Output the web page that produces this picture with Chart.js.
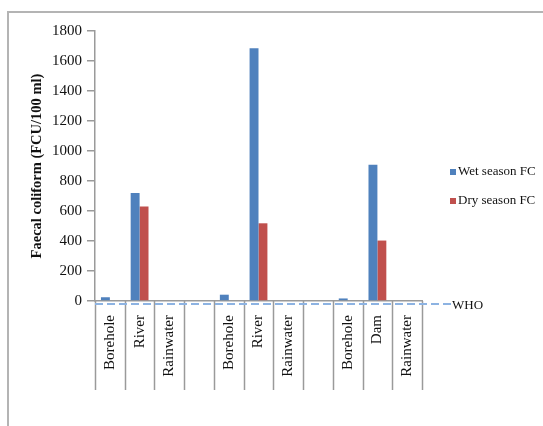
<!DOCTYPE html>
<html>
<head>
<meta charset="utf-8">
<script src="https://cdn.jsdelivr.net/npm/chart.js@4"></script>
<style>
  html, body { margin: 0; padding: 0; background: #fff; }
  #wrap { width: 543px; height: 426px; }
</style>
</head>
<body>
<div id="wrap"><canvas id="fc" width="543" height="426"></canvas></div>
<script>
// Water sources sampled at three sites (blank slots separate the sites)
const categories = ['Borehole', 'River', 'Rainwater', '', 'Borehole', 'River', 'Rainwater', '', 'Borehole', 'Dam', 'Rainwater'];
// Faecal coliform counts (FCU/100 ml)
const wetSeason = [25, 720, 0, null, 42, 1685, 0, null, 17, 908, 0];
const drySeason = [0, 630, 0, null, 0, 518, 0, null, 0, 403, 0];
// WHO guideline value for drinking water
const whoLevel = 0;
const whoLabel = 'WHO';
const yTicks = [0, 200, 400, 600, 800, 1000, 1200, 1400, 1600, 1800];

const SERIF = '"Liberation Serif", "Times New Roman", serif';
const BLUE = '#4F81BD';
const RED = '#C0504D';
const AXIS = '#9a9a9a';

const framePlugin = {
  id: 'frame',
  beforeDraw(chart) {
    const ctx = chart.ctx;
    ctx.save();
    ctx.fillStyle = '#fff';
    ctx.fillRect(0, 0, chart.width, chart.height);
    ctx.strokeStyle = '#b4b4b4';
    ctx.lineWidth = 2;
    ctx.beginPath();
    ctx.moveTo(8, chart.height);
    ctx.lineTo(8, 12);
    ctx.lineTo(chart.width, 12);
    ctx.stroke();
    ctx.restore();
  }
};

// Category separators below the x axis, the WHO line and the legend
const extrasPlugin = {
  id: 'extras',
  afterDraw(chart) {
    const ctx = chart.ctx;
    const x = chart.scales.x;
    const y = chart.scales.y;
    const area = chart.chartArea;
    ctx.save();

    // separators between categories
    ctx.strokeStyle = AXIS;
    ctx.lineWidth = 1.5;
    const half = (x.getPixelForValue(1) - x.getPixelForValue(0)) / 2;
    for (let i = 0; i <= categories.length; i++) {
      const px = Math.round(x.getPixelForValue(i) - half) + 0.5;
      ctx.beginPath();
      ctx.moveTo(px, area.bottom);
      ctx.lineTo(px, area.bottom + 89);
      ctx.stroke();
    }

    // WHO guideline
    const wy = y.getPixelForValue(whoLevel) + 3;
    ctx.strokeStyle = '#8DB3E2';
    ctx.lineWidth = 2;
    ctx.setLineDash([8, 4]);
    ctx.beginPath();
    ctx.moveTo(area.left, wy);
    ctx.lineTo(area.right + 29, wy);
    ctx.stroke();
    ctx.setLineDash([]);
    ctx.fillStyle = '#111';
    ctx.font = '13px ' + SERIF;
    ctx.textBaseline = 'middle';
    ctx.textAlign = 'left';
    ctx.fillText(whoLabel, area.right + 30, wy + 2);

    // legend
    const items = chart.data.datasets;
    items.forEach((ds, i) => {
      const ly = 172 + i * 29;
      ctx.fillStyle = ds.backgroundColor;
      ctx.fillRect(450, ly - 3, 6, 6);
      ctx.fillStyle = '#111';
      ctx.font = '13px ' + SERIF;
      ctx.fillText(ds.label, 458, ly);
    });
    ctx.restore();
  }
};

new Chart(document.getElementById('fc'), {
  type: 'bar',
  data: {
    labels: categories,
    datasets: [
      { label: 'Wet season FC', data: wetSeason, backgroundColor: BLUE },
      { label: 'Dry season FC', data: drySeason, backgroundColor: RED }
    ]
  },
  options: {
    responsive: false,
    animation: false,
    devicePixelRatio: 1,
    layout: { padding: { top: 31, right: 121, left: 0, bottom: 0 } },
    datasets: { bar: { categoryPercentage: 0.6, barPercentage: 1.0 } },
    plugins: {
      legend: { display: false },
      tooltip: { enabled: false }
    },
    scales: {
      x: {
        grid: { display: false, drawTicks: false },
        border: { color: AXIS, width: 1.5 },
        ticks: {
          autoSkip: false,
          minRotation: 90,
          maxRotation: 90,
          padding: 14,
          color: '#111',
          font: { family: SERIF, size: 15 }
        },
        afterFit(s) { s.height = 125; }
      },
      y: {
        min: 0,
        max: 1800,
        afterBuildTicks(s) { s.ticks = yTicks.map(v => ({ value: v })); },
        grid: { drawOnChartArea: false, tickLength: 8, color: AXIS, lineWidth: 1.5 },
        border: { color: AXIS, width: 1.5 },
        ticks: {
          padding: 5,
          color: '#111',
          font: { family: SERIF, size: 15 },
          callback: (v) => String(v)
        },
        title: {
          display: true,
          text: 'Faecal coliform (FCU/100 ml)',
          color: '#111',
          font: { family: SERIF, size: 14.5, weight: 'bold' },
          padding: { top: 29, bottom: 0 }
        },
        afterFit(s) { s.width = 95; }
      }
    }
  },
  plugins: [framePlugin, extrasPlugin]
});
</script>
</body>
</html>
